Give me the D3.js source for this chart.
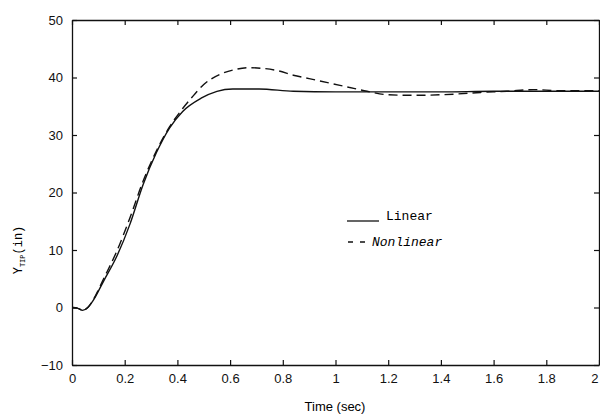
<!DOCTYPE html>
<html>
<head>
<meta charset="utf-8">
<script src="https://cdn.jsdelivr.net/npm/d3@7"></script>
<style>
body { margin: 0; background: #fff; }
svg { display: block; }
.tick text { font-family: "Liberation Sans", Arial, sans-serif; font-size: 13px; fill: #111; }
</style>
</head>
<body>
<svg id="chart" width="600" height="417"></svg>
<script>
const linT = [0, 0.02, 0.04, 0.06, 0.08, 0.12, 0.17, 0.22, 0.27, 0.32, 0.37, 0.42, 0.49, 0.55, 0.61, 0.71, 0.84, 1.0, 1.2, 1.4, 1.6, 1.8, 2.0]
const linY = [0, -0.1, -0.5, 0, 1.2, 4.6, 8.9, 14.5, 21.4, 26.9, 31.2, 34.1, 36.4, 37.6, 38.0, 38.0, 37.6, 37.5, 37.5, 37.5, 37.6, 37.6, 37.6]

const nonT = [0, 0.02, 0.04, 0.06, 0.08, 0.12, 0.17, 0.22, 0.27, 0.32, 0.37, 0.42, 0.46, 0.5, 0.56, 0.62, 0.67, 0.72, 0.78, 0.84, 0.9, 0.97, 1.05, 1.12, 1.2, 1.3, 1.45, 1.55, 1.65, 1.75, 1.85, 2.0]
const nonY = [0, -0.1, -0.5, 0, 1.3, 5.0, 9.8, 15.6, 22.0, 27.2, 31.4, 34.6, 36.8, 38.8, 40.5, 41.4, 41.7, 41.6, 41.2, 40.4, 39.8, 39.1, 38.3, 37.6, 37.0, 36.9, 37.1, 37.4, 37.6, 37.9, 37.7, 37.7]

const xTicks = [0, 0.2, 0.4, 0.6, 0.8, 1, 1.2, 1.4, 1.6, 1.8, 2]
const yTicks = [-10, 0, 10, 20, 30, 40, 50]

const mLeft = 72, mRight = 599, mTop = 20, mBottom = 365

const svg = d3.select('#chart')
const x = d3.scaleLinear().domain([0, 2]).range([mLeft, mRight])
const y = d3.scaleLinear().domain([-10, 50]).range([mBottom, mTop])

// box with inward ticks on every side
const fmt = d => String(d).replace('-', '\u2212')
const xAx = svg.append('g').attr('transform', 'translate(0,' + mBottom + ')')
	.call(d3.axisBottom(x).tickValues(xTicks).tickSizeInner(-5).tickSizeOuter(0).tickPadding(9).tickFormat(d => d))
// last label sits at the window edge, pull it in a little
xAx.selectAll('.tick text').filter(d => d === 2).attr('text-anchor', 'end').attr('dx', -1)
svg.append('g').attr('transform', 'translate(0,' + mTop + ')')
	.call(d3.axisTop(x).tickValues(xTicks).tickSizeInner(-5).tickSizeOuter(0).tickFormat(''))
svg.append('g').attr('transform', 'translate(' + mLeft + ',0)')
	.call(d3.axisLeft(y).tickValues(yTicks).tickSizeInner(-5).tickSizeOuter(0).tickPadding(9).tickFormat(fmt))
svg.append('g').attr('transform', 'translate(' + mRight + ',0)')
	.call(d3.axisRight(y).tickValues(yTicks).tickSizeInner(-5).tickSizeOuter(0).tickFormat(''))
svg.selectAll('.domain').attr('stroke', '#111').attr('stroke-width', 1.3)
svg.selectAll('.tick line').attr('stroke', '#111').attr('stroke-width', 1.2)

const line = d3.line().x(d => x(d[0])).y(d => y(d[1])).curve(d3.curveMonotoneX)

svg.append('path')
	.attr('d', line(d3.zip(linT, linY)))
	.attr('fill', 'none').attr('stroke', '#111').attr('stroke-width', 1.4)

svg.append('path')
	.attr('d', line(d3.zip(nonT, nonY)))
	.attr('fill', 'none').attr('stroke', '#111').attr('stroke-width', 1.4)
	.attr('stroke-dasharray', '9,5')

// legend
const monoFont = '"Liberation Mono", "DejaVu Sans Mono", monospace'
const leg = svg.append('g')
leg.append('line').attr('x1', 347).attr('x2', 379).attr('y1', 221).attr('y2', 221)
	.attr('stroke', '#111').attr('stroke-width', 1.3)
leg.append('line').attr('x1', 348).attr('x2', 366).attr('y1', 242).attr('y2', 242)
	.attr('stroke', '#111').attr('stroke-width', 1.3).attr('stroke-dasharray', '5,7')
leg.append('text').attr('x', 386).attr('y', 220)
	.style('font-family', monoFont).style('font-size', '13px')
	.text('Linear')
leg.append('text').attr('x', 372).attr('y', 246)
	.style('font-family', monoFont).style('font-size', '13px')
	.style('font-style', 'italic')
	.text('Nonlinear')

// axis titles
svg.append('text').attr('x', 335).attr('y', 411).attr('text-anchor', 'middle')
	.style('font-family', '"Liberation Sans", Arial, sans-serif').style('font-size', '13px')
	.text('Time (sec)')

const yl = svg.append('text').attr('transform', 'translate(22,250) rotate(-90)').attr('text-anchor', 'middle')
	.style('font-family', monoFont).style('font-size', '12px')
yl.append('tspan').text('Y')
yl.append('tspan').attr('dy', 3).style('font-size', '7px').text('TIP')
yl.append('tspan').attr('dy', -3).text('(in)')
</script>
</body>
</html>
